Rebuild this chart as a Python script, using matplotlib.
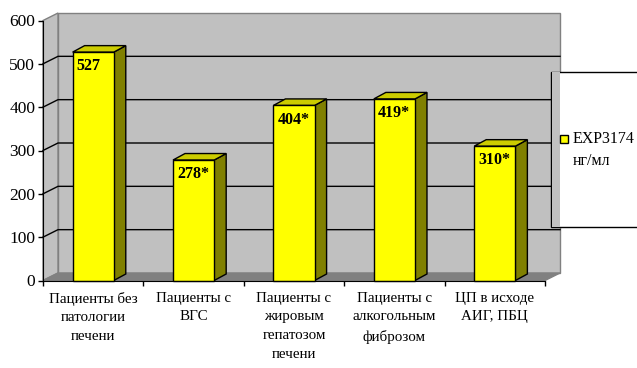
import matplotlib
matplotlib.use('Agg')
import matplotlib.pyplot as plt
from matplotlib.patches import Polygon, Rectangle

plt.rcParams['font.family'] = ['Liberation Serif', 'DejaVu Serif']

categories = ["Пациенты без\nпатологии\nпечени", "Пациенты с\nВГС",
              "Пациенты с\nжировым\nгепатозом\nпечени", "Пациенты с\nалкогольным\nфиброзом",
              "ЦП в исходе\nАИГ, ПБЦ"]
values = [527, 278, 404, 419, 310]
value_labels = ["527", "278*", "404*", "419*", "310*"]
series_name = "EXP3174\nнг/мл"
yticks = [0, 100, 200, 300, 400, 500, 600]

W, H = 637, 368
fig = plt.figure(figsize=(W / 100, H / 100), dpi=100)
ax = fig.add_axes([43 / W, 87.5 / H, 502 / W, 260 / H])
n = len(categories)
ymax = yticks[-1]
ax.set_xlim(0, n)
ax.set_ylim(0, ymax)
ax.patch.set_visible(False)

# depth offsets (pixels converted to data units)
px_x = n / 502
px_y = ymax / 260
WDX, WDY = 15 * px_x, 7.5 * px_y
BDX, BDY = 12 * px_x, 6.5 * px_y

wall_c = '#c0c0c0'
edge_c = '#808080'

# back wall
ax.add_patch(Polygon([(WDX, WDY), (n + WDX, WDY), (n + WDX, ymax + WDY), (WDX, ymax + WDY)],
                     closed=True, fc=wall_c, ec=edge_c, lw=1, clip_on=False, zorder=0.5))
# side wall
ax.add_patch(Polygon([(0, 0), (WDX, WDY), (WDX, ymax + WDY), (0, ymax)],
                     closed=True, fc=wall_c, ec=edge_c, lw=1, clip_on=False, zorder=0.5))
# floor
ax.add_patch(Polygon([(0, 0), (n, 0), (n + WDX, WDY), (WDX, WDY)],
                     closed=True, fc='#808080', ec=edge_c, lw=1, clip_on=False, zorder=0.6))
# gridlines
for v in yticks[1:-1]:
    ax.plot([0, WDX, n + WDX], [v, v + WDY, v + WDY], color='black', lw=1,
            clip_on=False, zorder=0.7)

# bars
w = 0.41
for i, (v, lab) in enumerate(zip(values, value_labels)):
    x0 = i + 0.5 - w / 2
    x1 = x0 + w
    ax.add_patch(Polygon([(x1, 0), (x1 + BDX, BDY), (x1 + BDX, v + BDY), (x1, v)],
                         closed=True, fc='#808000', ec='black', lw=1, clip_on=False, zorder=2))
    ax.add_patch(Polygon([(x0, v), (x1, v), (x1 + BDX, v + BDY), (x0 + BDX, v + BDY)],
                         closed=True, fc='#cccc00', ec='black', lw=1, clip_on=False, zorder=2))
    ax.add_patch(Rectangle((x0, 0), w, v, fc='#ffff00', ec='black', lw=1,
                           clip_on=False, zorder=2.1))
    ax.annotate(lab, xy=(x0, v), xytext=(2.8, -4.5), textcoords='offset points',
                ha='left', va='top', fontsize=11.5, fontweight='bold', zorder=3)

# axes spines / ticks
for s in ['top', 'right']:
    ax.spines[s].set_visible(False)
ax.spines['left'].set_color('black')
ax.spines['bottom'].set_color('black')
ax.spines['left'].set_zorder(2.5)
ax.spines['bottom'].set_zorder(2.5)
ax.set_yticks(yticks)
ax.set_yticklabels([str(t) for t in yticks])
ax.tick_params(axis='y', direction='out', length=3.6, width=1, pad=2, labelsize=12.5)
ax.set_xticks(range(n + 1))
ax.set_xticklabels([])
ax.tick_params(axis='x', which='major', direction='out', length=3.6, width=1)
ax.set_xticks([i + 0.5 for i in range(n)], minor=True)
ax.set_xticklabels(categories, minor=True, fontsize=10.8, linespacing=1.57)
ax.tick_params(axis='x', which='minor', length=0, pad=8)

# legend box
fig.patches.append(Rectangle((550.5 / W, 1 - 227 / H), 0.2, (227 - 72) / H,
                             transform=fig.transFigure, fc='white', ec='black', lw=1, zorder=5))
fig.patches.append(Rectangle((551.5 / W, 1 - 226.5 / H), 8 / W, (226.5 - 72.5) / H,
                             transform=fig.transFigure, fc=wall_c, ec='none', lw=0, zorder=5.1))
fig.patches.append(Rectangle((560 / W, 1 - 143 / H), 8 / W, 8 / H,
                             transform=fig.transFigure, fc='#ffff00', ec='black', lw=1, zorder=5.2))
name1, name2 = series_name.split('\n')
fig.text(573 / W, 1 - 143 / H, name1, fontsize=11.5, ha='left', va='baseline', zorder=6)
fig.text(573 / W, 1 - 165 / H, name2, fontsize=11.5, ha='left', va='baseline', zorder=6)

fig.savefig('out.png', dpi=100, facecolor='white')
